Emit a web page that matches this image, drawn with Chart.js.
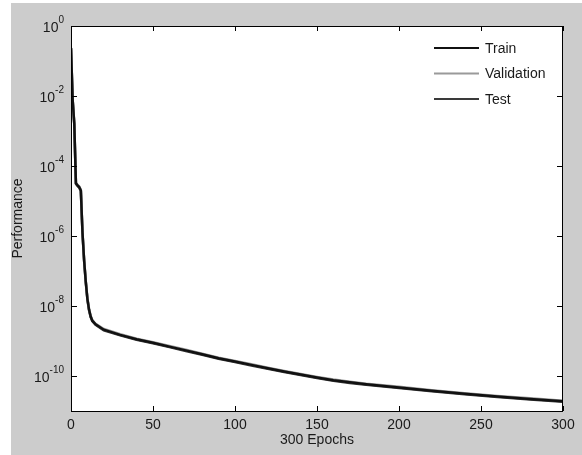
<!DOCTYPE html>
<html>
  <head>
    <script src="https://cdn.jsdelivr.net/npm/chart.js@4"></script>
    <style>
      body { margin: 0; background: #ffffff; }
      canvas { display: block; }
    </style>
  </head>

  <body>
    <canvas id="perf" width="582" height="455"></canvas>
  </body>

  <script>
    var epochs = [0, 1, 2, 3, 4, 5, 6, 7, 8, 9, 10, 11, 12, 13, 15, 20, 30, 40, 50, 60, 70, 80, 90, 100,
      110, 120, 130, 140, 150, 160, 170, 180, 200, 220, 240, 260, 280, 300];

    var trainPerf = [0.234, 7.9e-3, 1.6e-3, 3.2e-5, 2.8e-5, 2.5e-5, 2.0e-5, 1.26e-6, 2.0e-7, 5.0e-8, 1.6e-8,
      7.9e-9, 5.0e-9, 3.8e-9, 3.0e-9, 2.1e-9, 1.5e-9, 1.12e-9, 8.9e-10, 6.9e-10, 5.4e-10, 4.2e-10, 3.2e-10,
      2.6e-10, 2.08e-10, 1.66e-10, 1.35e-10, 1.1e-10, 9.1e-11, 7.6e-11, 6.6e-11, 5.8e-11, 4.7e-11, 3.8e-11,
      3.1e-11, 2.6e-11, 2.2e-11, 1.9e-11];

    var valPerf = [0.24, 8.1e-3, 1.65e-3, 3.3e-5, 2.9e-5, 2.6e-5, 2.1e-5, 1.3e-6, 2.1e-7, 5.2e-8, 1.7e-8,
      8.2e-9, 5.2e-9, 3.95e-9, 3.1e-9, 2.2e-9, 1.56e-9, 1.16e-9, 9.2e-10, 7.2e-10, 5.6e-10, 4.35e-10, 3.35e-10,
      2.7e-10, 2.16e-10, 1.72e-10, 1.4e-10, 1.14e-10, 9.4e-11, 7.9e-11, 6.85e-11, 6.0e-11, 4.9e-11, 3.95e-11,
      3.2e-11, 2.7e-11, 2.3e-11, 1.97e-11];

    var testPerf = [0.228, 7.7e-3, 1.55e-3, 3.1e-5, 2.7e-5, 2.4e-5, 1.95e-5, 1.22e-6, 1.95e-7, 4.8e-8, 1.55e-8,
      7.6e-9, 4.85e-9, 3.7e-9, 2.9e-9, 2.03e-9, 1.45e-9, 1.08e-9, 8.6e-10, 6.7e-10, 5.2e-10, 4.05e-10, 3.1e-10,
      2.5e-10, 2.0e-10, 1.6e-10, 1.3e-10, 1.06e-10, 8.8e-11, 7.3e-11, 6.35e-11, 5.6e-11, 4.55e-11, 3.65e-11,
      3.0e-11, 2.5e-11, 2.12e-11, 1.83e-11];

    var seriesNames = ["Train", "Validation", "Test"];
    var seriesColours = ["#111111", "#9a9a9a", "#3a3a3a"];

    var xTicks = [0, 50, 100, 150, 200, 250, 300];
    var yTicks = [1, 1e-2, 1e-4, 1e-6, 1e-8, 1e-10];

    var fontFamily = "'Liberation Sans', Arial, sans-serif";

    function toPoints(vals) {
      return epochs.map(function (e, i) {
        return { x: e, y: vals[i] };
      });
    }

    // grey figure, white axes
    var backdrop = {
      id: "backdrop",
      beforeDraw: function (chart) {
        var ctx = chart.ctx;
        var a = chart.chartArea;
        ctx.save();
        ctx.fillStyle = "#ffffff";
        ctx.fillRect(0, 0, chart.width, chart.height);
        ctx.fillStyle = "#cccccc";
        ctx.fillRect(11, 3, chart.width - 11, chart.height - 3);
        ctx.fillStyle = "#ffffff";
        ctx.fillRect(a.left, a.top, a.right - a.left, a.bottom - a.top);
        ctx.restore();
      },
    };

    // box, inward ticks, 10^n labels and legend, matlab style
    var matlabAxes = {
      id: "matlabAxes",
      afterDraw: function (chart) {
        var ctx = chart.ctx;
        var a = chart.chartArea;
        var xs = chart.scales.x;
        var ys = chart.scales.y;
        var tl = 5;
        ctx.save();
        ctx.strokeStyle = "#000000";
        ctx.lineWidth = 1;
        ctx.strokeRect(a.left + 0.5, a.top + 0.5, a.right - a.left - 1, a.bottom - a.top);

        ctx.beginPath();
        xTicks.forEach(function (t) {
          var px = Math.round(xs.getPixelForValue(t)) + 0.5;
          ctx.moveTo(px, a.bottom);
          ctx.lineTo(px, a.bottom - tl);
          ctx.moveTo(px, a.top);
          ctx.lineTo(px, a.top + tl);
        });
        yTicks.forEach(function (t) {
          var py = Math.round(ys.getPixelForValue(t)) + 0.5;
          ctx.moveTo(a.left, py);
          ctx.lineTo(a.left + tl + 1, py);
          ctx.moveTo(a.right, py);
          ctx.lineTo(a.right - tl - 1, py);
        });
        ctx.stroke();

        // y tick labels with superscript exponent
        ctx.fillStyle = "#1a1a1a";
        yTicks.forEach(function (t) {
          var py = ys.getPixelForValue(t);
          var exp = String(Math.round(Math.log10(t)));
          ctx.font = "10px " + fontFamily;
          var ew = ctx.measureText(exp).width;
          var right = a.left - 7;
          ctx.textBaseline = "alphabetic";
          ctx.textAlign = "left";
          ctx.fillText(exp, right - ew, py - 3);
          ctx.font = "14px " + fontFamily;
          ctx.textAlign = "right";
          ctx.fillText("10", right - ew, py + 6);
        });

        // legend
        var lx = 434, lw = 45, ly = 48, step = 25.5;
        chart.data.datasets.forEach(function (ds, i) {
          var y = ly + i * step;
          ctx.strokeStyle = ds.borderColor;
          ctx.lineWidth = 2;
          ctx.beginPath();
          ctx.moveTo(lx, y);
          ctx.lineTo(lx + lw, y);
          ctx.stroke();
          ctx.fillStyle = "#1a1a1a";
          ctx.font = "14px " + fontFamily;
          ctx.textAlign = "left";
          ctx.textBaseline = "middle";
          ctx.fillText(ds.label, lx + lw + 6, y + 1);
        });
        ctx.restore();
      },
    };

    var sets = [trainPerf, valPerf, testPerf].map(function (vals, i) {
      return {
        label: seriesNames[i],
        data: toPoints(vals),
        borderColor: seriesColours[i],
        borderWidth: 2.5,
        pointRadius: 0,
        tension: 0,
        fill: false,
      };
    });

    var ctx = document.getElementById("perf").getContext("2d");

    var chart = new Chart(ctx, {
      type: "line",
      data: { datasets: sets },
      plugins: [backdrop, matlabAxes],
      options: {
        responsive: false,
        animation: false,
        devicePixelRatio: 1,
        layout: { padding: { left: 0, right: 19, top: 26, bottom: 0 } },
        plugins: {
          legend: { display: false },
          tooltip: { enabled: false },
        },
        scales: {
          x: {
            type: "linear",
            min: 0,
            max: 300,
            afterBuildTicks: function (scale) {
              scale.ticks = xTicks.map(function (v) { return { value: v }; });
            },
            afterFit: function (scale) {
              scale.height = 44;
            },
            grid: { display: false, drawTicks: false },
            border: { display: false },
            ticks: {
              color: "#1a1a1a",
              padding: 6,
              maxRotation: 0,
              autoSkip: false,
              font: { family: fontFamily, size: 14 },
            },
            title: {
              display: true,
              text: "300 Epochs",
              color: "#1a1a1a",
              padding: { top: 0, bottom: 6 },
              font: { family: fontFamily, size: 14 },
            },
          },
          y: {
            type: "logarithmic",
            min: 1e-11,
            max: 1,
            afterBuildTicks: function (scale) {
              scale.ticks = yTicks.map(function (v) { return { value: v }; });
            },
            afterFit: function (scale) {
              scale.width = 71;
            },
            grid: { display: false, drawTicks: false },
            border: { display: false },
            ticks: { display: false },
            title: {
              display: true,
              text: "Performance",
              color: "#1a1a1a",
              padding: { top: 10, bottom: 0 },
              font: { family: fontFamily, size: 14 },
            },
          },
        },
      },
    });
  </script>
</html>
